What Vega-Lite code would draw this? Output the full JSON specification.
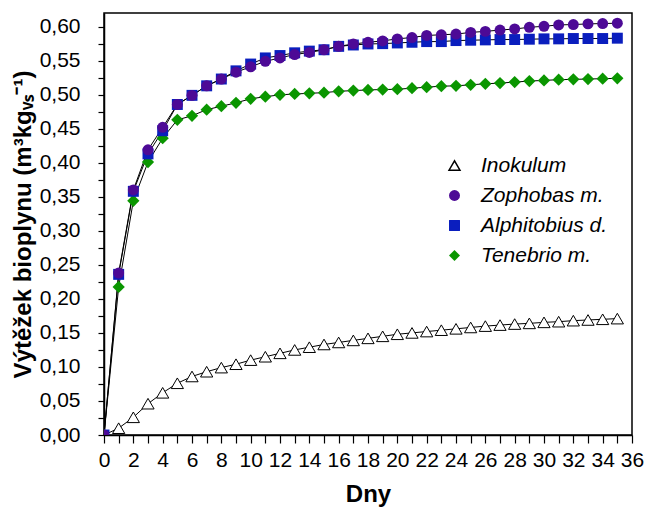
{
  "$schema": "https://vega.github.io/schema/vega-lite/v6.json",
  "autosize": {"type": "none"},
  "width": 528,
  "height": 422,
  "padding": {"left": 104, "top": 13, "right": 14, "bottom": 76},
  "background": "white",
  "config": {
    "font": "Liberation Sans",
    "view": {"stroke": "black", "strokeWidth": 1.5},
    "axis": {"grid": false, "domainColor": "black", "tickColor": "black", "labelColor": "black", "titleColor": "black", "domainWidth": 1.5, "tickWidth": 1.2, "labelFont": "Liberation Sans", "titleFont": "Liberation Sans", "labelFontSize": 21, "titleFontSize": 24, "titleFontWeight": "bold"}
  },
  "data": {"values": [
    {"d":0,"s":"Inokulum","v":0},{"d":1,"s":"Inokulum","v":0.010},{"d":2,"s":"Inokulum","v":0.026},{"d":3,"s":"Inokulum","v":0.046},{"d":4,"s":"Inokulum","v":0.062},{"d":5,"s":"Inokulum","v":0.076},{"d":6,"s":"Inokulum","v":0.086},{"d":7,"s":"Inokulum","v":0.093},{"d":8,"s":"Inokulum","v":0.099},{"d":9,"s":"Inokulum","v":0.104},{"d":10,"s":"Inokulum","v":0.110},{"d":11,"s":"Inokulum","v":0.115},{"d":12,"s":"Inokulum","v":0.120},{"d":13,"s":"Inokulum","v":0.125},{"d":14,"s":"Inokulum","v":0.129},{"d":15,"s":"Inokulum","v":0.133},{"d":16,"s":"Inokulum","v":0.136},{"d":17,"s":"Inokulum","v":0.139},{"d":18,"s":"Inokulum","v":0.142},{"d":19,"s":"Inokulum","v":0.145},{"d":20,"s":"Inokulum","v":0.148},{"d":21,"s":"Inokulum","v":0.150},{"d":22,"s":"Inokulum","v":0.152},{"d":23,"s":"Inokulum","v":0.154},{"d":24,"s":"Inokulum","v":0.156},{"d":25,"s":"Inokulum","v":0.158},{"d":26,"s":"Inokulum","v":0.160},{"d":27,"s":"Inokulum","v":0.1615},{"d":28,"s":"Inokulum","v":0.163},{"d":29,"s":"Inokulum","v":0.164},{"d":30,"s":"Inokulum","v":0.1655},{"d":31,"s":"Inokulum","v":0.1665},{"d":32,"s":"Inokulum","v":0.168},{"d":33,"s":"Inokulum","v":0.169},{"d":34,"s":"Inokulum","v":0.170},{"d":35,"s":"Inokulum","v":0.171},
    {"d":0,"s":"Tenebrio m.","v":0},{"d":1,"s":"Tenebrio m.","v":0.2175},{"d":2,"s":"Tenebrio m.","v":0.344},{"d":3,"s":"Tenebrio m.","v":0.401},{"d":4,"s":"Tenebrio m.","v":0.436},{"d":5,"s":"Tenebrio m.","v":0.463},{"d":6,"s":"Tenebrio m.","v":0.469},{"d":7,"s":"Tenebrio m.","v":0.478},{"d":8,"s":"Tenebrio m.","v":0.483},{"d":9,"s":"Tenebrio m.","v":0.488},{"d":10,"s":"Tenebrio m.","v":0.494},{"d":11,"s":"Tenebrio m.","v":0.497},{"d":12,"s":"Tenebrio m.","v":0.4998},{"d":13,"s":"Tenebrio m.","v":0.501},{"d":14,"s":"Tenebrio m.","v":0.502},{"d":15,"s":"Tenebrio m.","v":0.503},{"d":16,"s":"Tenebrio m.","v":0.505},{"d":17,"s":"Tenebrio m.","v":0.506},{"d":18,"s":"Tenebrio m.","v":0.507},{"d":19,"s":"Tenebrio m.","v":0.5075},{"d":20,"s":"Tenebrio m.","v":0.508},{"d":21,"s":"Tenebrio m.","v":0.5095},{"d":22,"s":"Tenebrio m.","v":0.511},{"d":23,"s":"Tenebrio m.","v":0.5125},{"d":24,"s":"Tenebrio m.","v":0.513},{"d":25,"s":"Tenebrio m.","v":0.5145},{"d":26,"s":"Tenebrio m.","v":0.516},{"d":27,"s":"Tenebrio m.","v":0.517},{"d":28,"s":"Tenebrio m.","v":0.5185},{"d":29,"s":"Tenebrio m.","v":0.520},{"d":30,"s":"Tenebrio m.","v":0.521},{"d":31,"s":"Tenebrio m.","v":0.522},{"d":32,"s":"Tenebrio m.","v":0.5225},{"d":33,"s":"Tenebrio m.","v":0.523},{"d":34,"s":"Tenebrio m.","v":0.5235},{"d":35,"s":"Tenebrio m.","v":0.524},
    {"d":0,"s":"Alphitobius d.","v":0},{"d":1,"s":"Alphitobius d.","v":0.236},{"d":2,"s":"Alphitobius d.","v":0.358},{"d":3,"s":"Alphitobius d.","v":0.413},{"d":4,"s":"Alphitobius d.","v":0.447},{"d":5,"s":"Alphitobius d.","v":0.4856},{"d":6,"s":"Alphitobius d.","v":0.499},{"d":7,"s":"Alphitobius d.","v":0.513},{"d":8,"s":"Alphitobius d.","v":0.523},{"d":9,"s":"Alphitobius d.","v":0.535},{"d":10,"s":"Alphitobius d.","v":0.545},{"d":11,"s":"Alphitobius d.","v":0.554},{"d":12,"s":"Alphitobius d.","v":0.5575},{"d":13,"s":"Alphitobius d.","v":0.5615},{"d":14,"s":"Alphitobius d.","v":0.564},{"d":15,"s":"Alphitobius d.","v":0.566},{"d":16,"s":"Alphitobius d.","v":0.571},{"d":17,"s":"Alphitobius d.","v":0.573},{"d":18,"s":"Alphitobius d.","v":0.5745},{"d":19,"s":"Alphitobius d.","v":0.575},{"d":20,"s":"Alphitobius d.","v":0.576},{"d":21,"s":"Alphitobius d.","v":0.577},{"d":22,"s":"Alphitobius d.","v":0.578},{"d":23,"s":"Alphitobius d.","v":0.578},{"d":24,"s":"Alphitobius d.","v":0.5795},{"d":25,"s":"Alphitobius d.","v":0.580},{"d":26,"s":"Alphitobius d.","v":0.5805},{"d":27,"s":"Alphitobius d.","v":0.581},{"d":28,"s":"Alphitobius d.","v":0.581},{"d":29,"s":"Alphitobius d.","v":0.5815},{"d":30,"s":"Alphitobius d.","v":0.582},{"d":31,"s":"Alphitobius d.","v":0.582},{"d":32,"s":"Alphitobius d.","v":0.5825},{"d":33,"s":"Alphitobius d.","v":0.5825},{"d":34,"s":"Alphitobius d.","v":0.5825},{"d":35,"s":"Alphitobius d.","v":0.583},
    {"d":0,"s":"Zophobas m.","v":0},{"d":1,"s":"Zophobas m.","v":0.238},{"d":2,"s":"Zophobas m.","v":0.360},{"d":3,"s":"Zophobas m.","v":0.419},{"d":4,"s":"Zophobas m.","v":0.452},{"d":5,"s":"Zophobas m.","v":0.4856},{"d":6,"s":"Zophobas m.","v":0.499},{"d":7,"s":"Zophobas m.","v":0.513},{"d":8,"s":"Zophobas m.","v":0.523},{"d":9,"s":"Zophobas m.","v":0.533},{"d":10,"s":"Zophobas m.","v":0.541},{"d":11,"s":"Zophobas m.","v":0.549},{"d":12,"s":"Zophobas m.","v":0.554},{"d":13,"s":"Zophobas m.","v":0.559},{"d":14,"s":"Zophobas m.","v":0.562},{"d":15,"s":"Zophobas m.","v":0.566},{"d":16,"s":"Zophobas m.","v":0.571},{"d":17,"s":"Zophobas m.","v":0.5745},{"d":18,"s":"Zophobas m.","v":0.577},{"d":19,"s":"Zophobas m.","v":0.579},{"d":20,"s":"Zophobas m.","v":0.582},{"d":21,"s":"Zophobas m.","v":0.584},{"d":22,"s":"Zophobas m.","v":0.587},{"d":23,"s":"Zophobas m.","v":0.588},{"d":24,"s":"Zophobas m.","v":0.589},{"d":25,"s":"Zophobas m.","v":0.5915},{"d":26,"s":"Zophobas m.","v":0.593},{"d":27,"s":"Zophobas m.","v":0.595},{"d":28,"s":"Zophobas m.","v":0.5965},{"d":29,"s":"Zophobas m.","v":0.599},{"d":30,"s":"Zophobas m.","v":0.6005},{"d":31,"s":"Zophobas m.","v":0.6025},{"d":32,"s":"Zophobas m.","v":0.603},{"d":33,"s":"Zophobas m.","v":0.604},{"d":34,"s":"Zophobas m.","v":0.6045},{"d":35,"s":"Zophobas m.","v":0.605}
  ]},
  "encoding": {
    "x": {"field": "d", "type": "quantitative",
      "scale": {"domain": [0, 36], "nice": false, "zero": false},
      "axis": {"title": "Dny", "values": [0,1,2,3,4,5,6,7,8,9,10,11,12,13,14,15,16,17,18,19,20,21,22,23,24,25,26,27,28,29,30,31,32,33,34,35,36],
        "labelExpr": "datum.value % 2 === 0 ? datum.label : ''", "labelOverlap": false, "labelFlush": false,
        "tickSize": 8, "labelPadding": 6, "titlePadding": 12,
        "encode": {"ticks": {"y2": {"value": {"expr": "datum.value % 2 === 0 ? 8 : 4"}}}}}},
    "y": {"field": "v", "type": "quantitative",
      "scale": {"domain": [0, 0.62], "nice": false},
      "axis": {"title": "Výtěžek bioplynu (m³kgᵥₛ⁻¹)", "values": [0,0.025,0.05,0.075,0.1,0.125,0.15,0.175,0.2,0.225,0.25,0.275,0.3,0.325,0.35,0.375,0.4,0.425,0.45,0.475,0.5,0.525,0.55,0.575,0.6],
        "labelExpr": "round(datum.value*1000) % 50 === 0 ? replace(format(datum.value, '.2f'), '.', ',') : ''", "labelOverlap": false, "labelFlush": false,
        "tickSize": 6, "labelPadding": 18, "titlePadding": 4,
        "encode": {"ticks": {"x2": {"value": {"expr": "round(datum.value*1000) % 50 === 0 ? -6 : -3"}}}}}}
  },
  "layer": [
    {"mark": {"type": "line", "color": "black", "strokeWidth": 1, "clip": true},
     "encoding": {"detail": {"field": "s"}}},
    {"mark": {"type": "point", "filled": true, "opacity": 1, "clip": true},
     "encoding": {
       "shape": {"field": "s", "type": "nominal", "title": null,
         "scale": {"domain": ["Inokulum", "Zophobas m.", "Alphitobius d.", "Tenebrio m."], "range": ["triangle-up", "circle", "square", "diamond"]}},
       "color": {"field": "s", "type": "nominal", "title": null,
         "scale": {"domain": ["Inokulum", "Zophobas m.", "Alphitobius d.", "Tenebrio m."], "range": ["white", "#4d0a96", "#0a1ebe", "#0a9600"]},
         "legend": {"orient": "none", "legendX": 340, "legendY": 142, "padding": 0,
           "labelFont": "Liberation Sans", "labelFontSize": 21, "labelFontStyle": "italic", "labelColor": "black", "symbolSize": 120, "labelOffset": 16, "rowPadding": 8}},
       "stroke": {"condition": {"test": "datum.s === 'Inokulum' || datum.value === 'Inokulum'", "value": "black"}, "value": null},
       "strokeWidth": {"value": 1},
       "size": {"condition": {"test": "datum.s === 'Inokulum' || datum.s === 'Tenebrio m.'", "value": 150}, "value": 120}
     }}
  ]
}
